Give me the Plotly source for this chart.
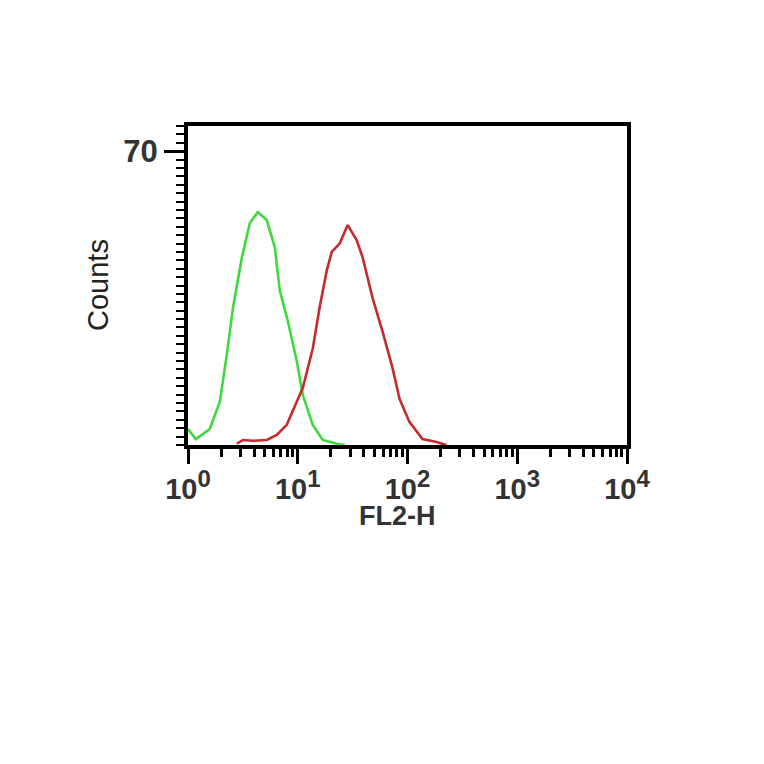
import plotly.graph_objects as go

# FL2-H values (log scale) and counts
green_x = [1.0, 1.18, 1.58, 1.95, 2.26, 2.57, 3.10, 3.66, 4.33, 5.22, 6.18, 6.86,
           8.11, 9.79, 11.1, 13.7, 16.9, 22.6, 26.8]
green_y = [3.8, 1.4, 3.8, 10.3, 21.6, 32.7, 44.7, 52.9, 55.5, 53.6, 47.1, 36.8,
           29.6, 20.0, 12.0, 4.8, 1.2, 0.3, 0.0]

red_x = [2.79, 3.16, 3.90, 5.22, 6.44, 7.94, 9.79, 11.1, 13.7, 15.8, 18.4, 20.4,
         24.1, 28.5, 34.4, 39.0, 48.1, 59.3, 73.1, 84.6, 104, 137, 184, 226]
red_y = [0.3, 1.2, 1.0, 1.2, 2.4, 4.8, 10.3, 13.5, 23.0, 32.7, 41.6, 46.0,
         48.0, 52.4, 48.8, 44.7, 35.0, 27.0, 18.3, 11.0, 5.5, 1.4, 0.7, 0.0]

x_tickvals = [1, 10, 100, 1000, 10000]
x_exps = ["0", "1", "2", "3", "4"]
y_tickvals = [0, 10, 20, 30, 40, 50, 60, 70]
y_ticktext = ["", "", "", "", "", "", "", "<b>70</b>"]

x_ticktext = ["<b>10<sup><span style='font-size:24px'>%s</span></sup></b>" % e for e in x_exps]
x_minor = [m * 10 ** d for d in range(4) for m in range(2, 10)]
y_minor = list(range(0, 77, 2))

FONT = "Arial, Liberation Sans, sans-serif"

fig = go.Figure()
fig.add_trace(go.Scatter(x=green_x, y=green_y, mode="lines",
                         line=dict(color="#3fd83f", width=2.6), showlegend=False))
fig.add_trace(go.Scatter(x=red_x, y=red_y, mode="lines",
                         line=dict(color="#c42a2e", width=2.6), showlegend=False))

fig.update_xaxes(type="log", range=[0, 4], showgrid=False, zeroline=False,
                 showline=True, mirror=True, linecolor="black", linewidth=4,
                 ticks="outside", ticklen=15, tickwidth=3, tickcolor="black",
                 tickvals=x_tickvals, ticktext=x_ticktext,
                 tickfont=dict(family=FONT, size=29, color="#333"),
                 minor=dict(tickvals=x_minor, ticks="outside", ticklen=8, tickwidth=2.5,
                            tickcolor="black", showgrid=False))
fig.update_yaxes(range=[0, 76], showgrid=False, zeroline=False,
                 showline=True, mirror=True, linecolor="black", linewidth=4,
                 ticks="outside", ticklen=20, tickwidth=2.5, tickcolor="black",
                 tickvals=y_tickvals, ticktext=y_ticktext,
                 tickfont=dict(family=FONT, size=31, color="#333"),
                 minor=dict(tickvals=y_minor, ticks="outside", ticklen=8, tickwidth=2,
                            tickcolor="black", showgrid=False))

# margins in div pixels (page has an 8px body offset)
L, R, T, B = 180, 145, 118, 327
pw = 764 - L - R
ph = 764 - T - B
OFF = 8


def px_to_paper(xp, yp):
    return (xp - OFF - L) / pw, (764 - B - (yp - OFF)) / ph


cx, cy = px_to_paper(98, 285)
fig.add_annotation(text="Counts", x=cx, y=cy, xref="paper", yref="paper",
                   xanchor="center", yanchor="middle",
                   showarrow=False, textangle=-90,
                   font=dict(family="Liberation Sans Narrow, Arial Narrow, sans-serif",
                             size=29, color="#222"))
fx, fy = px_to_paper(397, 516)
fig.add_annotation(text="<b>FL2-H</b>", x=fx, y=fy, xref="paper", yref="paper",
                   xanchor="center", yanchor="middle", showarrow=False,
                   font=dict(family=FONT, size=27, color="#333"))

fig.update_layout(width=764, height=764, plot_bgcolor="white", paper_bgcolor="white",
                  margin=dict(l=L, r=R, t=T, b=B))

fig.write_html("out.html")
